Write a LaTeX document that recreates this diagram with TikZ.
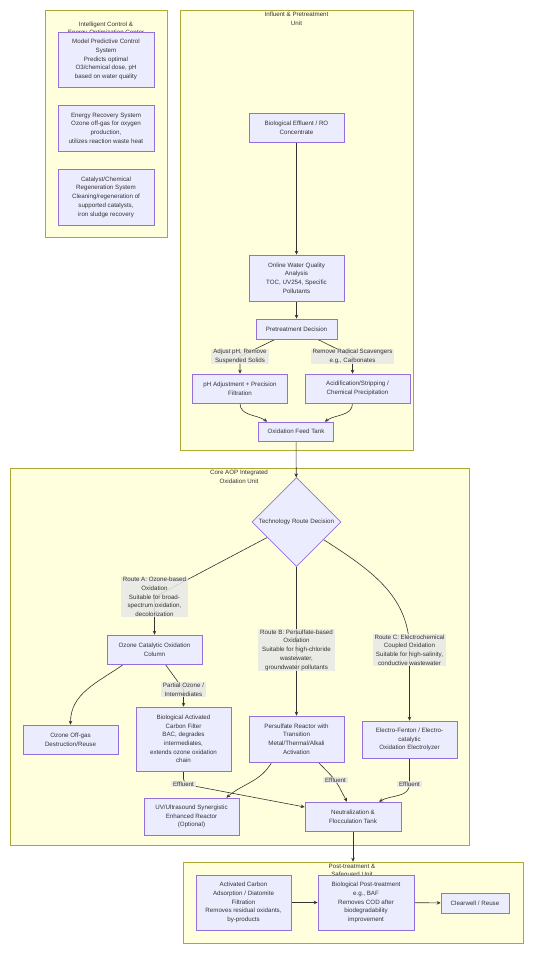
\documentclass[tikz,border=0pt]{standalone}
\usepackage{fontspec}
\setmainfont{Liberation Sans}
\usepackage{xcolor}
\usetikzlibrary{shapes.geometric, arrows.meta, positioning, calc, backgrounds}
\definecolor{nodefill}{HTML}{ECECFF}
\definecolor{nodeline}{HTML}{9370DB}
\definecolor{clusterfill}{HTML}{FFFFDE}
\definecolor{clusterline}{HTML}{AAAA33}
\definecolor{labelfill}{HTML}{E8E8E8}
\definecolor{inktext}{HTML}{333333}
\pgfdeclarelayer{background}
\pgfdeclarelayer{edges}
\pgfsetlayers{background,edges,main}

\begin{document}
\begin{tikzpicture}[
    x=1pt, y=1pt,
    every node/.style={font=\fontsize{6.2}{8.7}\selectfont, text=inktext},
    block/.style={rectangle, draw=nodeline, fill=nodefill, line width=0.6pt, align=center, inner sep=1pt},
    decision/.style={diamond, draw=nodeline, fill=nodefill, line width=0.6pt, align=center, inner sep=0pt, minimum width=89pt, minimum height=89pt},
    edgelabel/.style={rectangle, fill=labelfill, fill opacity=0.85, text opacity=1, inner xsep=2pt, inner ysep=0.5pt, align=center},
    cluster/.style={rectangle, draw=clusterline, fill=clusterfill, line width=0.6pt, inner sep=0pt},
    title/.style={align=center, inner sep=0pt},
    arrow/.style={draw=inktext, line width=0.6pt, -{Stealth[length=4pt, width=3.5pt]}}
]
\useasboundingbox (0,0) rectangle (533,-953);

% subgraph frames
\begin{scope}[on background layer]
\node[cluster, minimum width=122pt, minimum height=227pt] (ctrlunit) at (106,-123.5) {};
\node[cluster, minimum width=233pt, minimum height=440pt] (inunit) at (296.5,-230) {};
\node[cluster, minimum width=459pt, minimum height=377pt] (coreunit) at (239.5,-656.5) {};
\node[cluster, minimum width=340pt, minimum height=81pt] (postunit) at (353,-902.5) {};
\end{scope}
\node[title] (ctrltitle) at (106,-29) {Intelligent Control \&\\Energy Optimization Center};
\node[title] (intitle) at (296.5,-18.8) {Influent \& Pretreatment\\Unit};
\node[title] (coretitle) at (239,-477) {Core AOP Integrated\\Oxidation Unit};
\node[title] (posttitle) at (352,-871) {Post-treatment \&\\Safeguard Unit};

% control center
\node[block, minimum width=96pt, minimum height=55pt] (mpc) at (106,-59.5) {Model Predictive Control\\System\\Predicts optimal\\O3/chemical dose, pH\\based on water quality};
\node[block, minimum width=96pt, minimum height=46pt] (energy) at (106,-128) {Energy Recovery System\\Ozone off-gas for oxygen\\production,\\utilizes reaction waste heat};
\node[block, minimum width=96pt, minimum height=56pt] (regen) at (106,-197) {Catalyst/Chemical\\Regeneration System\\Cleaning/regeneration of\\supported catalysts,\\iron sludge recovery};

% influent & pretreatment
\node[block, minimum width=95pt, minimum height=29pt] (bioeff) at (296.5,-128) {Biological Effluent / RO\\Concentrate};
\node[block, minimum width=95pt, minimum height=46pt] (online) at (296.5,-278) {Online Water Quality\\Analysis\\TOC, UV254, Specific\\Pollutants};
\node[block, minimum width=81pt, minimum height=20pt] (predec) at (296.5,-329) {Pretreatment Decision};
\node[edgelabel] (adjlbl) at (240,-356.5) {Adjust pH, Remove\\Suspended Solids};
\node[edgelabel] (scavlbl) at (352.5,-356.5) {Remove Radical Scavengers\\e.g., Carbonates};
\node[block, minimum width=95pt, minimum height=29pt] (phadj) at (240,-388.5) {pH Adjustment + Precision\\Filtration};
\node[block, minimum width=105pt, minimum height=29pt] (acid) at (357.5,-388.5) {Acidification/Stripping /\\Chemical Precipitation};
\node[block, minimum width=75pt, minimum height=19pt] (feed) at (296,-431.5) {Oxidation Feed Tank};

% core AOP unit
\node[decision] (techdec) at (296.5,-522) {Technology Route Decision};
\node[edgelabel] (routea) at (154.5,-597) {Route A: Ozone-based\\Oxidation\\Suitable for broad-\\spectrum oxidation,\\decolorization};
\node[edgelabel] (routeb) at (296.5,-650) {Route B: Persulfate-based\\Oxidation\\Suitable for high-chloride\\wastewater,\\groundwater pollutants};
\node[edgelabel] (routec) at (409.5,-650) {Route C: Electrochemical\\Coupled Oxidation\\Suitable for high-salinity,\\conductive wastewater};
\node[block, minimum width=95pt, minimum height=29pt] (ozonecol) at (154.5,-649.5) {Ozone Catalytic Oxidation\\Column};
\node[edgelabel] (partlbl) at (183.5,-689.5) {Partial Ozone /\\Intermediates};
\node[block, minimum width=95pt, minimum height=64pt] (bac) at (183.5,-739) {Biological Activated\\Carbon Filter\\BAC, degrades\\intermediates,\\extends ozone oxidation\\chain};
\node[block, minimum width=95pt, minimum height=29pt] (offgas) at (70.5,-739.5) {Ozone Off-gas\\Destruction/Reuse};
\node[block, minimum width=95pt, minimum height=46pt] (persul) at (296.5,-739) {Persulfate Reactor with\\Transition\\Metal/Thermal/Alkali\\Activation};
\node[block, minimum width=95pt, minimum height=37pt] (electro) at (409.5,-739.5) {Electro-Fenton / Electro-\\catalytic\\Oxidation Electrolyzer};
\node[block, minimum width=95pt, minimum height=37pt] (uv) at (191.5,-816.5) {UV/Ultrasound Synergistic\\Enhanced Reactor\\(Optional)};
\node[block, minimum width=96pt, minimum height=29pt] (neutral) at (353,-816.5) {Neutralization \&\\Flocculation Tank};
\node[edgelabel] (effa) at (183.5,-784) {Effluent};
\node[edgelabel] (effb) at (335.5,-780) {Effluent};
\node[edgelabel] (effc) at (409.5,-784) {Effluent};

% post-treatment
\node[block, minimum width=95pt, minimum height=55pt] (actcarbon) at (243.5,-902.5) {Activated Carbon\\Adsorption / Diatomite\\Filtration\\Removes residual oxidants,\\by-products};
\node[block, minimum width=96pt, minimum height=55pt] (biopost) at (366,-902.5) {Biological Post-treatment\\e.g., BAF\\Removes COD after\\biodegradability\\improvement};
\node[block, minimum width=68pt, minimum height=20pt] (clearwell) at (475,-903) {Clearwell / Reuse};

\begin{pgfonlayer}{edges}
\draw[arrow] (bioeff) -- (online);
\draw[arrow] (online) -- (predec);
\draw[arrow] (predec) -- (adjlbl.center) -- (phadj);
\draw[arrow] (predec) -- (scavlbl.center) -- (scavlbl.center |- acid.north);
\draw[arrow] (phadj.south) to[out=-90, in=145] ([xshift=9pt]feed.north west);
\draw[arrow] (scavlbl |- acid.south) to[out=-90, in=35] ([xshift=-9pt]feed.north east);
\draw[arrow] (feed) -- (techdec);
\draw[arrow] (techdec) -- (routea.center) -- (ozonecol);
\draw[arrow] (techdec) -- (routeb.center) -- (persul);
\draw[arrow] (techdec.-33) to[out=-33, in=90] (routec.center) -- (electro);
\draw[arrow] ([xshift=17pt]ozonecol.south west) to[out=-145, in=90] (offgas.north);
\draw[arrow] (ozonecol) -- (partlbl.center) -- (bac);
\draw[arrow, rounded corners=5pt] (bac.south) -- (effa.center) -- ([yshift=9.5pt]neutral.west);
\draw[arrow, rounded corners=8pt] ([xshift=-26pt]persul.south east) -- (effb.center) -- ([xshift=-6pt]neutral.north);
\draw[arrow] (electro.south) -- (effc.center) to[out=-90, in=30] ([xshift=26pt]neutral.north);
\draw[arrow] ([xshift=23pt]persul.south west) to[out=-120, in=40] ([xshift=-13pt]uv.north east);
\draw[arrow] (neutral) -- (neutral |- postunit.north);
\draw[arrow] (actcarbon) -- (biopost);
\draw[arrow] (biopost) -- (clearwell);
\end{pgfonlayer}
\end{tikzpicture}
\end{document}
